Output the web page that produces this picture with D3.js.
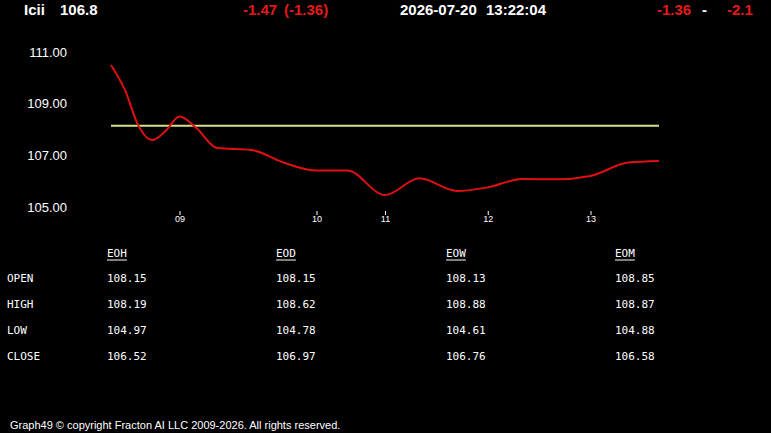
<!DOCTYPE html>
<html>
<head>
<meta charset="utf-8">
<script src="https://cdn.jsdelivr.net/npm/d3@7"></script>
<style>
  body { margin: 0; background: #000; }
  svg { display: block; }
  .hdr { font-family: "Liberation Sans", Arial, sans-serif; font-weight: bold; font-size: 15px; }
  .tbl { font-family: "DejaVu Sans Mono", monospace; font-size: 11px; fill: #fff; }
</style>
</head>
<body>
<div id="chart"></div>
<script>
// series: position index along the session, price
const pos = [0, 4, 8, 12, 16, 20, 25, 31, 41, 50, 60, 69, 80, 90, 101, 110, 120, 130, 140, 151, 160];
const price = [110.50, 109.55, 108.15, 107.59, 107.95, 108.50, 108.05, 107.28, 107.21, 106.74, 106.41, 106.41, 105.46, 106.11, 105.62, 105.76, 106.08, 106.07, 106.20, 106.72, 106.78];
const refLevel = 108.15;

const yTicks = [105, 107, 109, 111];
const xTickPos = [20, 60, 80, 110, 140];
const xTickLabels = ["09", "10", "11", "12", "13"];

const colHeads = ["EOH", "EOD", "EOW", "EOM"];
const rowHeads = ["OPEN", "HIGH", "LOW", "CLOSE"];
const eoh = [108.15, 108.19, 104.97, 106.52];
const eod = [108.15, 108.62, 104.78, 106.97];
const eow = [108.13, 108.88, 104.61, 106.76];
const eom = [108.85, 108.87, 104.88, 106.58];

const W = 771, H = 433;
const svg = d3.select("#chart").append("svg")
    .attr("width", W).attr("height", H);
svg.append("rect").attr("width", W).attr("height", H).attr("fill", "#000");

// header
const hdr = svg.append("g").attr("class", "hdr");
hdr.append("text").attr("x", 24).attr("y", 15).attr("fill", "#fff").text("Icii");
hdr.append("text").attr("x", 60).attr("y", 15).attr("fill", "#fff").text("106.8");
hdr.append("text").attr("x", 243).attr("y", 15).attr("fill", "#e41a1a").text("-1.47");
hdr.append("text").attr("x", 284).attr("y", 15).attr("fill", "#e41a1a").text("(-1.36)");
hdr.append("text").attr("x", 400).attr("y", 15).attr("fill", "#fff").text("2026-07-20");
hdr.append("text").attr("x", 486).attr("y", 15).attr("fill", "#fff").text("13:22:04");
hdr.append("text").attr("x", 657).attr("y", 15).attr("fill", "#e41a1a").text("-1.36");
hdr.append("text").attr("x", 702).attr("y", 15).attr("fill", "#fff").text("-");
hdr.append("text").attr("x", 727).attr("y", 15).attr("fill", "#e41a1a").text("-2.1");

// scales
const x = d3.scaleLinear().domain([0, 160]).range([111, 659]);
const y = d3.scaleLinear().domain([105, 111]).range([207, 52]);

// y axis labels
svg.append("g")
    .attr("transform", "translate(67,0)")
    .call(d3.axisLeft(y).tickValues(yTicks).tickFormat(d3.format(".2f")).tickSize(0).tickPadding(0))
    .call(g => g.select(".domain").remove())
    .call(g => g.selectAll("text")
        .attr("fill", "#fff")
        .style("font-family", "Liberation Sans, Arial, sans-serif")
        .style("font-size", "13px"));

// x axis ticks
svg.append("g")
    .attr("transform", "translate(0,211)")
    .call(d3.axisBottom(x).tickValues(xTickPos).tickFormat((d, i) => xTickLabels[i]).tickSize(4).tickPadding(1))
    .call(g => g.select(".domain").remove())
    .call(g => g.selectAll("line").attr("stroke", "#fff"))
    .call(g => g.selectAll("text")
        .attr("fill", "#fff")
        .style("font-family", "Liberation Sans, Arial, sans-serif")
        .style("font-size", "9px"));

// reference level
svg.append("line")
    .attr("x1", x(0)).attr("x2", x(160))
    .attr("y1", y(refLevel)).attr("y2", y(refLevel))
    .attr("stroke", "#d6e08c").attr("stroke-width", 2);

// price line
const line = d3.line()
    .x((d, i) => x(pos[i]))
    .y(d => y(d))
    .curve(d3.curveMonotoneX);
svg.append("path")
    .datum(price)
    .attr("d", line)
    .attr("fill", "none")
    .attr("stroke", "#e01010")
    .attr("stroke-width", 2);

// table
const colX = [107, 276, 446, 615];
const rowY = [282, 308, 334, 360];
const cols = [eoh, eod, eow, eom];
const tbl = svg.append("g").attr("class", "tbl");
colHeads.forEach((h, i) => {
    const t = tbl.append("text").attr("x", colX[i]).attr("y", 257).text(h);
    const w = t.node().getComputedTextLength();
    tbl.append("line")
        .attr("x1", colX[i]).attr("x2", colX[i] + w)
        .attr("y1", 260).attr("y2", 260)
        .attr("stroke", "#fff").attr("stroke-width", 1);
});
rowHeads.forEach((r, j) => {
    tbl.append("text").attr("x", 7).attr("y", rowY[j]).text(r);
    cols.forEach((c, i) => {
        tbl.append("text").attr("x", colX[i]).attr("y", rowY[j]).text(c[j].toFixed(2));
    });
});

// footer
svg.append("text")
    .attr("x", 10).attr("y", 429)
    .attr("fill", "#fff")
    .style("font-family", "Liberation Sans, Arial, sans-serif")
    .style("font-size", "11px")
    .text("Graph49 © copyright Fracton AI LLC 2009-2026. All rights reserved.");
</script>
</body>
</html>
